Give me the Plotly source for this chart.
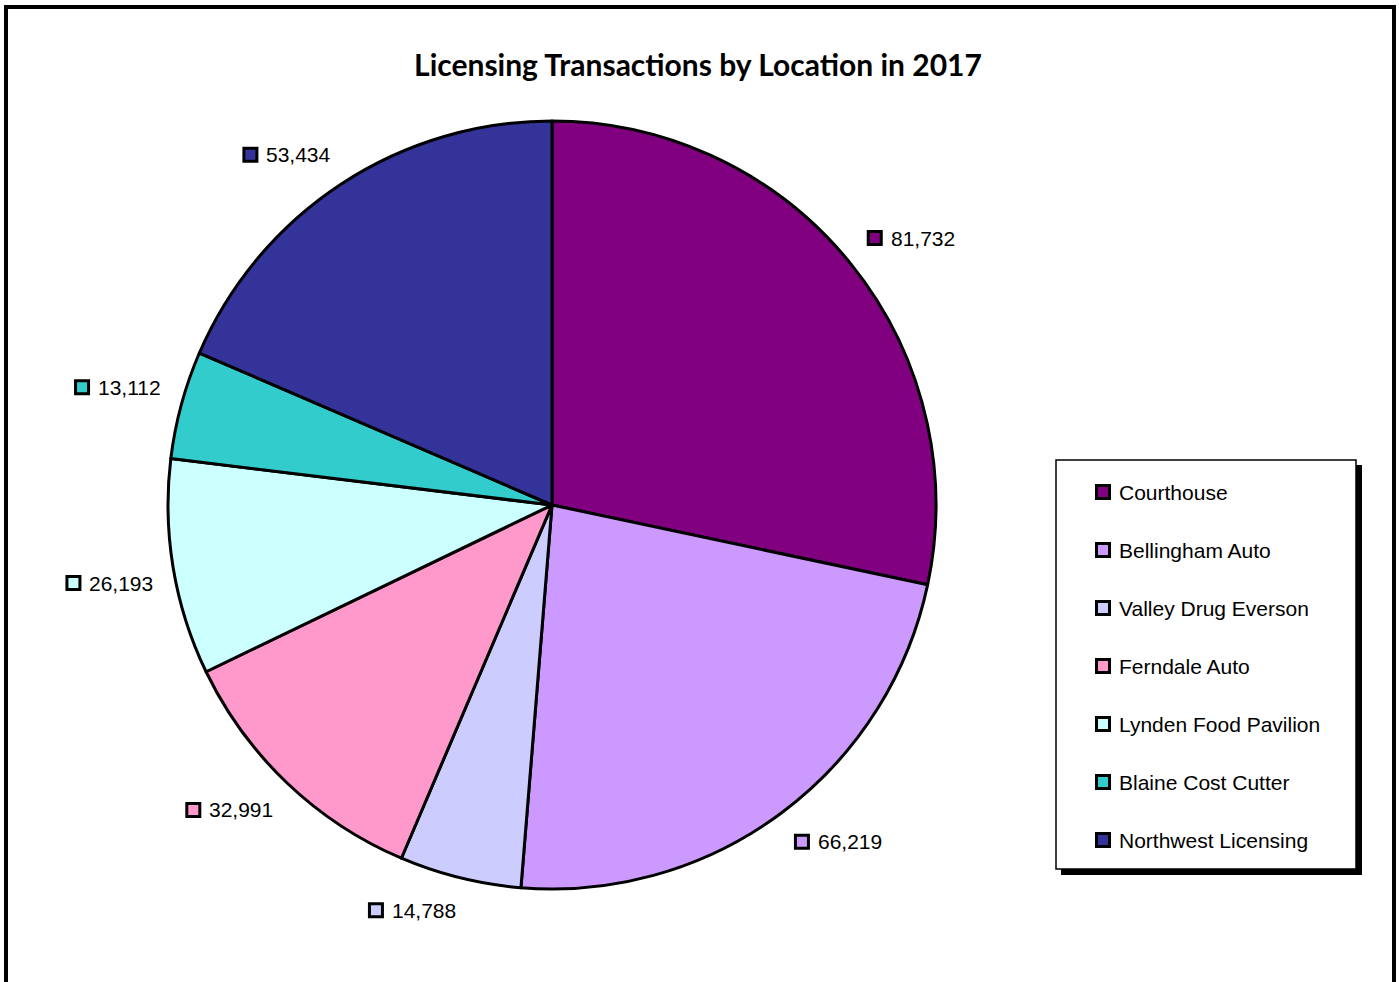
import math
import plotly.graph_objects as go

# Licensing transactions per office, 2017
locations = ["Courthouse", "Bellingham Auto", "Valley Drug Everson", "Ferndale Auto",
             "Lynden Food Pavilion", "Blaine Cost Cutter", "Northwest Licensing"]
transactions = [81732, 66219, 14788, 32991, 26193, 13112, 53434]
colors = ["#800080", "#CC99FF", "#CCCCFF", "#FF99CC", "#CCFFFF", "#33CCCC", "#333399"]

W, H = 1399, 982
CX, CY, R = 552, 505, 384          # pie centre and radius in px
ANCHOR_DIST = 405                  # distance of each label's anchor from the centre
BOX_W, BOX_H = 87, 24              # size of a value label (swatch + number)
FONT = "Liberation Sans, Arial, sans-serif"
FSIZE = 21

fig = go.Figure()

fig.add_trace(go.Pie(
    labels=locations, values=transactions, sort=False, direction="clockwise",
    rotation=0, marker=dict(colors=colors, line=dict(color="black", width=3)),
    textinfo="none", hoverinfo="label+value", showlegend=False,
    domain=dict(x=[(CX - R) / W, (CX + R) / W], y=[1 - (CY + R) / H, 1 - (CY - R) / H]),
))

# value labels: box corner nearest the pie sits on the slice's mid-angle ray
total = sum(transactions)
mx, my, annotations = [], [], []
acc = 0
for v in transactions:
    mid = (acc + v / 2) / total * 2 * math.pi
    acc += v
    ax = CX + ANCHOR_DIST * math.sin(mid)
    ay = CY - ANCHOR_DIST * math.cos(mid)
    cx = ax + (BOX_W / 2 if math.sin(mid) >= 0 else -BOX_W / 2)
    cy = ay + (BOX_H / 2 if math.cos(mid) < 0 else -BOX_H / 2)
    left = cx - BOX_W / 2
    mx.append(left + 8)
    my.append(cy)
    annotations.append(dict(
        x=left + 22, y=cy, xref="x", yref="y", text=f"{v:,}", showarrow=False,
        xanchor="left", yanchor="middle", font=dict(family=FONT, size=FSIZE, color="black"),
    ))

fig.add_trace(go.Scatter(
    x=mx, y=my, mode="markers",
    marker=dict(symbol="square", size=13, color=colors, line=dict(color="black", width=3)),
    hoverinfo="skip", showlegend=False, cliponaxis=False,
))

# legend drawn as a boxed list
LEG_X, LEG_Y0, LEG_STEP = 1103, 492, 58
leg_y = [LEG_Y0 + LEG_STEP * i for i in range(len(locations))]
fig.add_trace(go.Scatter(
    x=[LEG_X] * len(locations), y=leg_y, mode="markers",
    marker=dict(symbol="square", size=13, color=colors, line=dict(color="black", width=3)),
    hoverinfo="skip", showlegend=False, cliponaxis=False,
))
for name, y in zip(locations, leg_y):
    annotations.append(dict(
        x=LEG_X + 14, y=y, xref="x", yref="y", text=name, showarrow=False,
        xanchor="left", yanchor="middle", font=dict(family=FONT, size=FSIZE, color="black"),
    ))

shapes = [
    # legend shadow and box
    dict(type="rect", xref="x", yref="y", x0=1061, y0=465, x1=1362, y1=875,
         fillcolor="black", line=dict(width=0), layer="below"),
    dict(type="rect", xref="x", yref="y", x0=1056, y0=460, x1=1356, y1=869,
         fillcolor="white", line=dict(color="black", width=1.5), layer="below"),
    # outer chart frame
    dict(type="rect", xref="x", yref="y", x0=6, y0=7, x1=1394, y1=1000,
         line=dict(color="black", width=4), fillcolor="rgba(0,0,0,0)"),
]

fig.update_layout(
    width=W, height=H, margin=dict(l=0, r=0, t=0, b=0),
    paper_bgcolor="white", plot_bgcolor="rgba(0,0,0,0)",
    xaxis=dict(range=[0, W], visible=False, domain=[0, 1], fixedrange=True),
    yaxis=dict(range=[H, 0], visible=False, domain=[0, 1], fixedrange=True),
    shapes=shapes, annotations=annotations,
    title=dict(text="<b>Licensing Transactions by Location in 2017</b>",
               x=698 / W, y=1 - 65 / H, xanchor="center", yanchor="middle",
               font=dict(family="Lato, Open Sans, sans-serif", size=30, color="black")),
)

fig.write_html("out.html")
